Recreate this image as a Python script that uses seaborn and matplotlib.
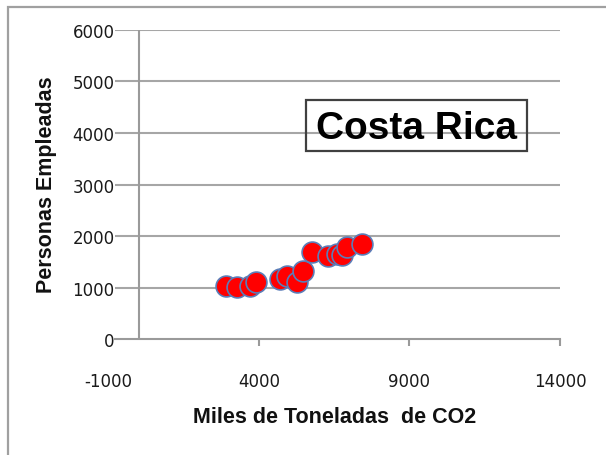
import matplotlib
matplotlib.use("Agg")
import matplotlib.pyplot as plt
from matplotlib.patches import Rectangle
import seaborn as sns
import pandas as pd

# Emisiones (miles de toneladas de CO2) y personas empleadas, Costa Rica
co2 = [2900, 3280, 3700, 3900, 4700, 4940, 5270, 5450, 5750, 6300, 6580, 6750, 6910, 7430]
empleo = [1040, 1010, 1040, 1115, 1170, 1220, 1105, 1330, 1685, 1610, 1655, 1635, 1785, 1845]

x_ticks = [-1000, 4000, 9000, 14000]
y_ticks = [0, 1000, 2000, 3000, 4000, 5000, 6000]

sns.set_theme(style="white")
plt.rcParams["font.family"] = ["DejaVu Sans"]

df = pd.DataFrame({"co2": co2, "empleo": empleo})

fig = plt.figure(figsize=(6.06, 4.56), dpi=100)
ax = fig.add_axes([0.179, 0.2537, 0.745, 0.679])

grid_col = "#A6A6A6"
axis_col = "#9A9A9A"

ax.set_xlim(x_ticks[0], x_ticks[-1])
ax.set_ylim(y_ticks[0], y_ticks[-1])

# horizontal gridlines and the vertical axis crossing at x = 0
ax.hlines(y_ticks[1:], -780, x_ticks[-1], color=grid_col, lw=1.5, zorder=1)
ax.vlines(0, y_ticks[0], y_ticks[-1], color=axis_col, lw=1.5, zorder=1)

sns.scatterplot(data=df, x="co2", y="empleo", ax=ax, s=225, color="#FF0000",
                edgecolor="#5B7DB8", linewidth=1.2, zorder=3, legend=False)

for side in ["left", "right", "top"]:
    ax.spines[side].set_visible(False)
ax.spines["bottom"].set_color(axis_col)
ax.spines["bottom"].set_linewidth(1.5)
ax.spines["bottom"].set_bounds(-780, x_ticks[-1])

ax.set_xticks(x_ticks)
ax.set_yticks(y_ticks)
ax.set_xticklabels([str(v) for v in x_ticks])
ax.set_yticklabels([str(v) for v in y_ticks])
ax.tick_params(axis="x", direction="out", length=5, width=1.5, color=axis_col,
               pad=18.5, labelsize=12, labelcolor="#1A1A1A", bottom=True)
ax.tick_params(axis="y", length=0, pad=-4.5, labelsize=12, labelcolor="#1A1A1A", left=True)
ax.xaxis.get_major_ticks()[0].tick1line.set_visible(False)

bold_family = ["Liberation Sans", "DejaVu Sans"]
ax.set_xlabel("Miles de Toneladas  de CO2", fontsize=15.5, fontweight="bold",
              color="#111111", family=bold_family)
ax.set_ylabel("Personas Empleadas", fontsize=15.5, fontweight="bold",
              color="#111111", family=bold_family)
ax.xaxis.set_label_coords(0.501, -0.248)
ax.xaxis.label.set_va("center")
ax.yaxis.set_label_coords(-0.138, 0.503)
ax.yaxis.label.set_va("center")

# framed title inside the plot area
ax.add_patch(Rectangle((0.4368, 0.6082), 0.4901, 0.1647, transform=ax.transAxes,
                       fill=False, edgecolor="#404040", lw=1.6, zorder=4))
ax.text(0.6818, 0.683, "Costa Rica", transform=ax.transAxes, ha="center", va="center",
        fontsize=28, fontweight="bold", color="#000000", family=bold_family, zorder=5)

# chart area border
fig.patches.append(Rectangle((8 / 606, -0.1), 1.2, 1 - 8 / 456 + 0.1, transform=fig.transFigure,
                             fill=False, edgecolor="#A0A0A0", lw=1.6))

fig.savefig("out.png", dpi=100)
